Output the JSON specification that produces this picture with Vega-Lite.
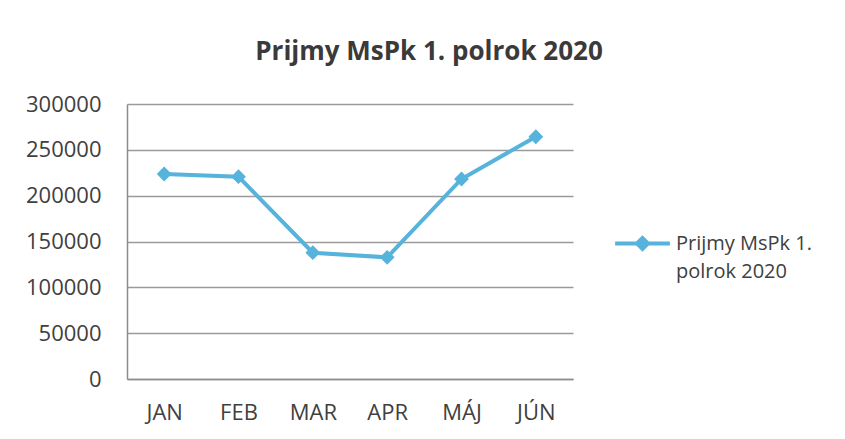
{
  "$schema": "https://vega.github.io/schema/vega-lite/v6.json",
  "autosize": "none",
  "width": 446,
  "height": 275,
  "padding": {"left": 127, "top": 104, "right": 272, "bottom": 60},
  "background": "white",
  "title": {
    "text": "Prijmy MsPk 1. polrok 2020",
    "font": "Open Sans",
    "fontSize": 26,
    "fontWeight": "bold",
    "color": "#3a3a3a",
    "anchor": "middle",
    "dx": 79,
    "offset": 28
  },
  "data": {
    "values": [
      {"mesiac": "JAN", "prijmy": 223600, "seria": "Prijmy MsPk 1. polrok 2020"},
      {"mesiac": "FEB", "prijmy": 220700, "seria": "Prijmy MsPk 1. polrok 2020"},
      {"mesiac": "MAR", "prijmy": 137800, "seria": "Prijmy MsPk 1. polrok 2020"},
      {"mesiac": "APR", "prijmy": 132700, "seria": "Prijmy MsPk 1. polrok 2020"},
      {"mesiac": "MÁJ", "prijmy": 218200, "seria": "Prijmy MsPk 1. polrok 2020"},
      {"mesiac": "JÚN", "prijmy": 264300, "seria": "Prijmy MsPk 1. polrok 2020"}
    ]
  },
  "mark": {
    "type": "line",
    "strokeWidth": 4,
    "point": {"shape": "diamond", "size": 220, "filled": true, "opacity": 1}
  },
  "encoding": {
    "x": {
      "field": "mesiac",
      "type": "ordinal",
      "sort": null,
      "scale": {"padding": 0.5},
      "axis": {
        "title": null,
        "labelAngle": 0,
        "labelFont": "Open Sans",
        "labelFontSize": 22,
        "labelColor": "#404040",
        "labelPadding": 23,
        "ticks": false,
        "domainColor": "#8c8c8c",
        "domainWidth": 1.5,
        "grid": false
      }
    },
    "y": {
      "field": "prijmy",
      "type": "quantitative",
      "scale": {"domain": [0, 300000], "nice": false},
      "axis": {
        "title": null,
        "values": [0, 50000, 100000, 150000, 200000, 250000, 300000],
        "format": "d",
        "labelFont": "Open Sans",
        "labelFontSize": 22,
        "labelColor": "#404040",
        "labelPadding": 26,
        "ticks": false,
        "domainColor": "#8c8c8c",
        "domainWidth": 1.5,
        "gridColor": "#9a9a9a",
        "gridWidth": 1.5
      }
    },
    "color": {
      "field": "seria",
      "type": "nominal",
      "scale": {"range": ["#55b3dc"]},
      "legend": {
        "title": null,
        "orient": "none",
        "legendX": 486,
        "legendY": 110,
        "labelExpr": "['Prijmy MsPk 1.', 'polrok 2020']",
        "labelFont": "Open Sans",
        "labelFontSize": 20,
        "labelColor": "#404040",
        "labelBaseline": "middle",
        "labelLimit": 300,
        "symbolType": "M-1,0H1M-0.2,0L0,-0.2L0.2,0L0,0.2Z",
        "symbolSize": 3000,
        "symbolStrokeWidth": 4,
        "symbolFillColor": "#55b3dc",
        "symbolStrokeColor": "#55b3dc",
        "labelOffset": 4,
        "encode": {
          "labels": {"update": {"lineHeight": {"value": 28}}}
        }
      }
    }
  },
  "config": {
    "view": {"stroke": null}
  }
}
